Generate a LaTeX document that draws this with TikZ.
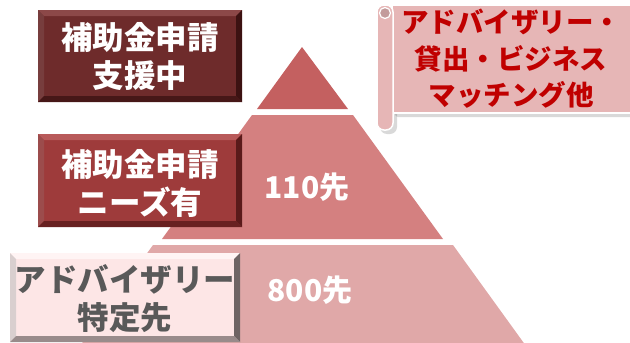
\documentclass[tikz,border=0pt]{standalone}
\usepackage{fontspec}
\setmainfont{Noto Sans CJK JP}
\usetikzlibrary{calc,shadows}
\definecolor{pyrtop}{HTML}{C46060}
\definecolor{pyrmid}{HTML}{D48080}
\definecolor{pyrbot}{HTML}{E0A8A8}
\definecolor{boxa}{HTML}{6E2B2B}
\definecolor{boxaL}{HTML}{8C4848}
\definecolor{boxaD}{HTML}{3C1212}
\definecolor{boxb}{HTML}{9E3B3B}
\definecolor{boxbL}{HTML}{B85A5A}
\definecolor{boxbD}{HTML}{5A1A1A}
\definecolor{boxc}{HTML}{FDE6E6}
\definecolor{boxcL}{HTML}{FFF4F4}
\definecolor{boxcD}{HTML}{6E6464}
\definecolor{scroll}{HTML}{E6B6B6}
\definecolor{scrolltxt}{HTML}{C00000}
\definecolor{graytxt}{HTML}{595959}
\newcommand\bevelbox[4]{%
  \fill[#2] (#1.north west) -- (#1.north east) -- ($(#1.north east)+(-6,6)$) -- ($(#1.north west)+(6,6)$) -- cycle;
  \fill[#2!85!black] (#1.north west) -- ($(#1.north west)+(6,6)$) -- ($(#1.south west)+(6,-6)$) -- (#1.south west) -- cycle;
  \fill[#3] (#1.north east) -- (#1.south east) -- ($(#1.south east)+(-6,-6)$) -- ($(#1.north east)+(-6,6)$) -- cycle;
  \fill[#4] (#1.south west) -- (#1.south east) -- ($(#1.south east)+(-6,-6)$) -- ($(#1.south west)+(6,-6)$) -- cycle;
}
\tikzset{
  boxlabel/.style={inner sep=0pt, outer sep=0pt, align=center,
    font=\bfseries\fontsize{31.5}{38}\selectfont},
  pyrlabel/.style={inner sep=0pt, text=white, font=\bfseries\fontsize{30}{36}\selectfont},
}
\begin{document}
\begin{tikzpicture}[x=1pt,y=-1pt]
\useasboundingbox (0,0) rectangle (630,343);
\clip (0,0) rectangle (630,343);
% pyramid
\fill[pyrtop] (302,47) -- (348,109) -- (257,109) -- cycle;
\fill[pyrmid] (252,115) -- (353,115) -- (443,239) -- (162,239) -- cycle;
\fill[pyrbot] (153,245) -- (453,245) -- (526,346) -- (80,346) -- cycle;
\node[pyrlabel] (n110) at (307,187) {110先};
\node[pyrlabel] (n800) at (310,290) {800先};
% box 1
\node[boxlabel, fill=boxa, minimum width=204, minimum height=92] (box1) at (140,56) {};
\bevelbox{box1}{boxaL}{boxaD}{boxaD!80!boxa}
\node[boxlabel, text=white] (t1) at (140,56) {補助金申請\\支援中};
% box 2
\node[boxlabel, fill=boxb, minimum width=204, minimum height=93] (box2) at (140,180.5) {};
\bevelbox{box2}{boxbL}{boxbD}{boxbD!80!boxb}
\node[boxlabel, text=white] (t2) at (140,183) {補助金申請\\ニーズ有};
% box 3
\node[boxlabel, fill=boxc, minimum width=230, minimum height=89] (box3) at (125,297.5) {};
\bevelbox{box3}{boxcL}{boxcD}{boxcD!70!boxc}
\node[boxlabel, text=graytxt] (t3) at (125,299) {アドバイザリー\\特定先};
% scroll
\fill[black, opacity=0.15, rounded corners=3pt] (395,9) rectangle (640,117);
\fill[black, opacity=0.15, rounded corners=7pt] (380,9) rectangle (397,134);
\draw[white, line width=1.5pt, fill=scroll] (392,5) rectangle (640,113);
\draw[white, line width=1.5pt, fill=scroll, rounded corners=7pt] (377,5) rectangle (393,130);
\draw[white, line width=1.2pt, fill=scroll!85!black] (385,13) circle[radius=5.5];
\node[boxlabel, text=scrolltxt, font=\bfseries\fontsize{27.5}{36.5}\selectfont] (ts) at (511,59) {アドバイザリー・\\貸出・ビジネス\\マッチング他};
\end{tikzpicture}
\end{document}
